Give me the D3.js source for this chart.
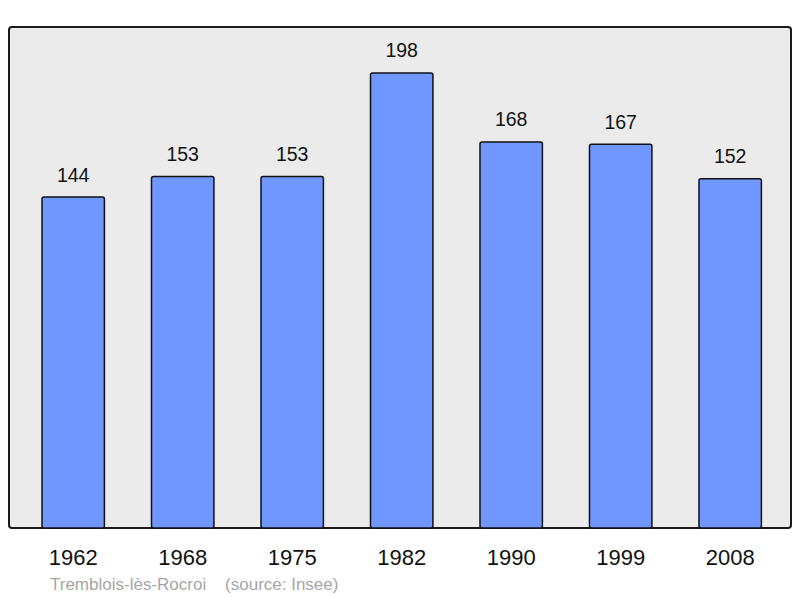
<!DOCTYPE html>
<html><head><meta charset="utf-8">
<script src="https://cdn.jsdelivr.net/npm/d3@7"></script>
<style>body{margin:0;background:#fff}svg{display:block}</style>
</head><body>
<script>
const years = ["1962","1968","1975","1982","1990","1999","2008"];
const population = [144,153,153,198,168,167,152];
const footerCommune = "Tremblois-lès-Rocroi";
const footerSource = "(source: Insee)";

const W = 800, H = 598;
const svg = d3.select("body").append("svg").attr("width", W).attr("height", H);
const font = "Liberation Sans, Arial, sans-serif";

const x = d3.scaleBand().domain(years).range([9.15, 794.25]).paddingInner(0.43).paddingOuter(0.3);
const y = d3.scaleLinear().domain([0, 218]).range([528, 27]);

svg.append("rect").attr("x", 9).attr("y", 27).attr("width", 782).attr("height", 501)
  .attr("rx", 3).attr("fill", "#ebebeb").attr("stroke", "#1a1a1a").attr("stroke-width", 2);

svg.selectAll("rect.bar").data(years).enter().append("rect").attr("class","bar")
  .attr("x", d => x(d)).attr("width", x.bandwidth())
  .attr("y", (d,i) => y(population[i])).attr("height", (d,i) => y(0) - y(population[i]))
  .attr("rx", 2).attr("fill", "#7096ff").attr("stroke", "#111").attr("stroke-width", 1.5);

svg.selectAll("text.val").data(years).enter().append("text").attr("class","val")
  .attr("x", d => x(d) + x.bandwidth()/2).attr("y", (d,i) => y(population[i]) - 15.5)
  .attr("text-anchor","middle").attr("font-family", font).attr("font-size", 19.5).attr("fill","#111")
  .text((d,i) => population[i]);

const axis = d3.axisBottom(x).tickSize(0).tickPadding(0);
const g = svg.append("g").attr("transform", "translate(0,528)").call(axis);
g.select(".domain").remove();
g.selectAll("text").attr("font-family", font).attr("font-size", 22).attr("fill","#111")
  .attr("dy", null).attr("y", 36.5);

svg.append("text").attr("x", 50).attr("y", 590).attr("font-family", font).attr("font-size", 17)
  .attr("fill", "#a6a6a6").attr("xml:space","preserve").text(footerCommune + "    " + footerSource);
</script>
</body></html>
